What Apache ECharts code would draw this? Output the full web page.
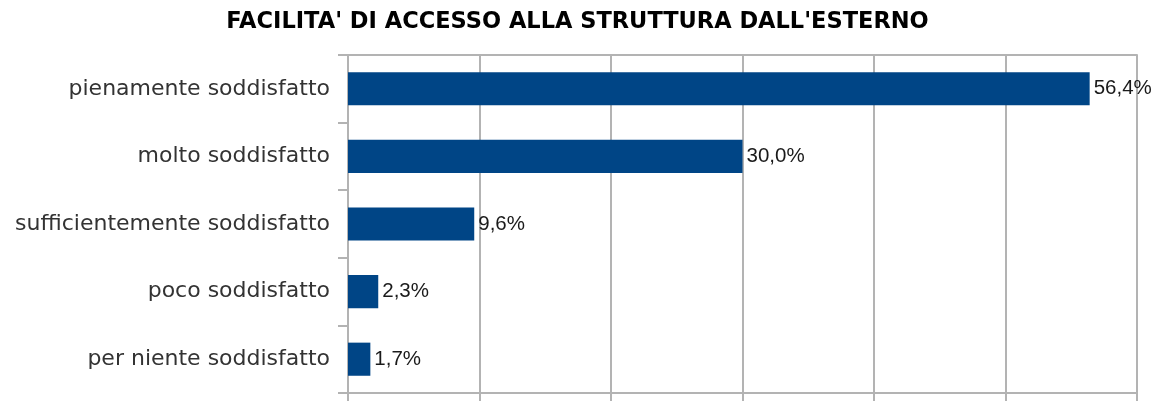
<!DOCTYPE html>
<html>
<head>
<meta charset="utf-8">
<script src="https://cdn.jsdelivr.net/npm/echarts@6/dist/echarts.min.js"></script>
<style>
  html, body { margin: 0; padding: 0; background: #fff; }
  #chart { width: 1155px; height: 401px; }
</style>
</head>
<body>
<div id="chart"></div>
<script>
const titleText = "FACILITA' DI ACCESSO ALLA STRUTTURA DALL'ESTERNO";
const categories = [
    'pienamente soddisfatto',
    'molto soddisfatto',
    'sufficientemente soddisfatto',
    'poco soddisfatto',
    'per niente soddisfatto'
];
const values = [56.4, 30.0, 9.6, 2.3, 1.7];

const gridColor = '#b3b3b3';
const chart = echarts.init(document.getElementById('chart'), null, { renderer: 'canvas' });

chart.setOption({
    animation: false,
    title: {
        text: titleText,
        left: 'center',
        top: 6,
        textStyle: {
            fontFamily: 'DejaVu Sans',
            fontWeight: 'bold',
            fontSize: 22.5,
            color: '#000'
        }
    },
    grid: { left: 348, right: 18, top: 55, bottom: 8, containLabel: false },
    xAxis: [{
        type: 'value',
        min: 0,
        max: 60,
        interval: 10,
        position: 'bottom',
        axisLine: { show: true, lineStyle: { color: gridColor, width: 2 } },
        axisTick: { show: true, length: 8, lineStyle: { color: gridColor, width: 2 } },
        axisLabel: { show: false },
        splitLine: { show: true, lineStyle: { color: gridColor, width: 2 } }
    }, {
        type: 'value',
        min: 0,
        max: 60,
        position: 'top',
        axisLine: { show: true, lineStyle: { color: gridColor, width: 2 } },
        axisTick: { show: false },
        axisLabel: { show: false },
        splitLine: { show: false }
    }],
    yAxis: {
        type: 'category',
        inverse: true,
        data: categories,
        axisLine: { show: true, lineStyle: { color: gridColor, width: 2 } },
        axisTick: { show: true, length: 10, lineStyle: { color: gridColor, width: 2 } },
        axisLabel: {
            margin: 18,
            fontFamily: 'DejaVu Sans',
            fontSize: 22,
            color: '#333'
        }
    },
    series: [{
        type: 'bar',
        data: values,
        barWidth: '49%',
        itemStyle: { color: '#004586' },
        label: {
            show: true,
            position: 'right',
            distance: 4,
            fontFamily: 'Liberation Sans',
            fontSize: 20.5,
            color: '#1a1a1a',
            formatter: p => p.value.toFixed(1).replace('.', ',') + '%'
        }
    }]
});
</script>
</body>
</html>
